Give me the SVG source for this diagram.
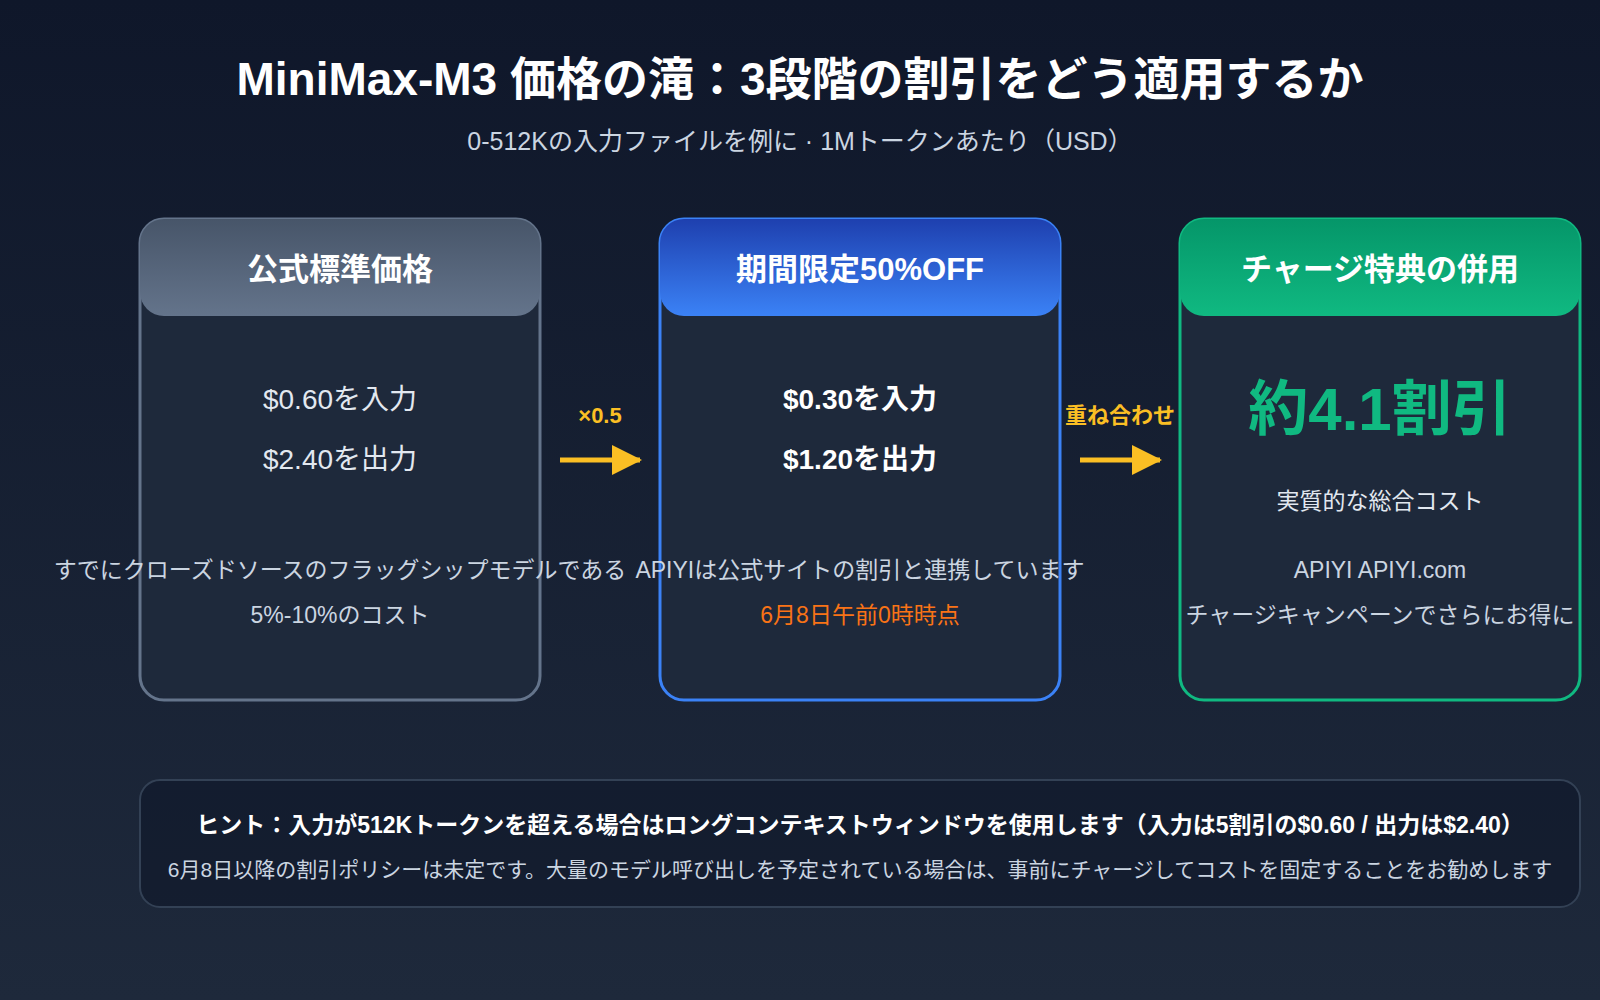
<svg xmlns="http://www.w3.org/2000/svg" width="1600" height="1000" viewBox="0 0 1600 1000">
<defs>
<linearGradient id="bg" x1="0" y1="0" x2="0" y2="1"><stop offset="0" stop-color="#0f172a"/><stop offset="1" stop-color="#1e293b"/></linearGradient>
<linearGradient id="g1" x1="0" y1="0" x2="0" y2="1"><stop offset="0" stop-color="#475569"/><stop offset="1" stop-color="#64748b"/></linearGradient>
<linearGradient id="g2" x1="0" y1="0" x2="0" y2="1"><stop offset="0" stop-color="#1e40af"/><stop offset="1" stop-color="#3b82f6"/></linearGradient>
<linearGradient id="g3" x1="0" y1="0" x2="0" y2="1"><stop offset="0" stop-color="#059669"/><stop offset="1" stop-color="#10b981"/></linearGradient>
<marker id="ah" markerWidth="30" markerHeight="30" refX="28" refY="15" orient="auto" markerUnits="userSpaceOnUse"><path d="M0,0 L30,15 L0,30 z" fill="#fbbf24"/></marker>
</defs>
<style>
text{font-family:"Liberation Sans","Noto Sans CJK JP",sans-serif;text-anchor:middle}
.h{font-size:31px;font-weight:bold;fill:#fff}
.p{font-size:28px;fill:#e2e8f0}
.pb{font-size:28px;fill:#fff;font-weight:bold}
.s{font-size:23px;fill:#cbd5e1}
.lab{font-size:22px;font-weight:bold;fill:#fbbf24}
</style>
<rect width="1600" height="1000" fill="url(#bg)"/>
<text x="800" y="95" style="font-size:46px;font-weight:bold;fill:#fff">MiniMax-M3 価格の滝：3段階の割引をどう適用するか</text>
<text x="800" y="150" style="font-size:25px;fill:#cbd5e1">0-512Kの入力ファイルを例に · 1Mトークンあたり（USD）</text>
<g id="node1">
<rect x="140" y="219" width="400" height="481" rx="24" fill="#1e293b" stroke="#64748b" stroke-width="3"/>
<path d="M140,292 V243 a24,24 0 0 1 24,-24 H516 a24,24 0 0 1 24,24 V292 a24,24 0 0 1 -24,24 H164 a24,24 0 0 1 -24,-24 z" fill="url(#g1)"/>
<text class="h" x="340" y="280">公式標準価格</text>
<text class="p" x="340" y="409">$0.60を入力</text>
<text class="p" x="340" y="469">$2.40を出力</text>
<text class="s" x="340" y="578">すでにクローズドソースのフラッグシップモデルである</text>
<text class="s" x="340" y="623">5%-10%のコスト</text>
</g>
<g id="node2">
<rect x="660" y="219" width="400" height="481" rx="24" fill="#1e293b" stroke="#3b82f6" stroke-width="3"/>
<path d="M660,292 V243 a24,24 0 0 1 24,-24 H1036 a24,24 0 0 1 24,24 V292 a24,24 0 0 1 -24,24 H684 a24,24 0 0 1 -24,-24 z" fill="url(#g2)"/>
<text class="h" x="860" y="280">期間限定50%OFF</text>
<text class="pb" x="860" y="409">$0.30を入力</text>
<text class="pb" x="860" y="469">$1.20を出力</text>
<text class="s" x="860" y="578">APIYIは公式サイトの割引と連携しています</text>
<text class="s" x="860" y="623" style="fill:#f97316">6月8日午前0時時点</text>
</g>
<g id="node3">
<rect x="1180" y="219" width="400" height="481" rx="24" fill="#1e293b" stroke="#10b981" stroke-width="3"/>
<path d="M1180,292 V243 a24,24 0 0 1 24,-24 H1556 a24,24 0 0 1 24,24 V292 a24,24 0 0 1 -24,24 H1204 a24,24 0 0 1 -24,-24 z" fill="url(#g3)"/>
<text class="h" x="1380" y="280">チャージ特典の併用</text>
<text x="1380" y="430" style="font-size:60px;font-weight:bold;fill:#10b981">約4.1割引</text>
<text class="s" x="1380" y="509" style="fill:#e2e8f0">実質的な総合コスト</text>
<text class="s" x="1380" y="578">APIYI APIYI.com</text>
<text class="s" x="1380" y="623">チャージキャンペーンでさらにお得に</text>
</g>
<g id="connectors">
<line x1="560" y1="460" x2="640" y2="460" stroke="#fbbf24" stroke-width="5" marker-end="url(#ah)"/>
<text class="lab" x="600" y="423">×0.5</text>
<line x1="1080" y1="460" x2="1160" y2="460" stroke="#fbbf24" stroke-width="5" marker-end="url(#ah)"/>
<text class="lab" x="1120" y="423">重ね合わせ</text>
</g>
<g id="hint">
<rect x="140" y="780" width="1440" height="127" rx="20" fill="#0f172a" fill-opacity="0.6" stroke="#334155" stroke-width="2"/>
<text x="860" y="833" style="font-size:23px;font-weight:bold;fill:#fff">ヒント：入力が512Kトークンを超える場合はロングコンテキストウィンドウを使用します（入力は5割引の$0.60 / 出力は$2.40）</text>
<text x="860" y="877" style="font-size:21px;fill:#cbd5e1">6月8日以降の割引ポリシーは未定です。大量のモデル呼び出しを予定されている場合は、事前にチャージしてコストを固定することをお勧めします</text>
</g>
</svg>
